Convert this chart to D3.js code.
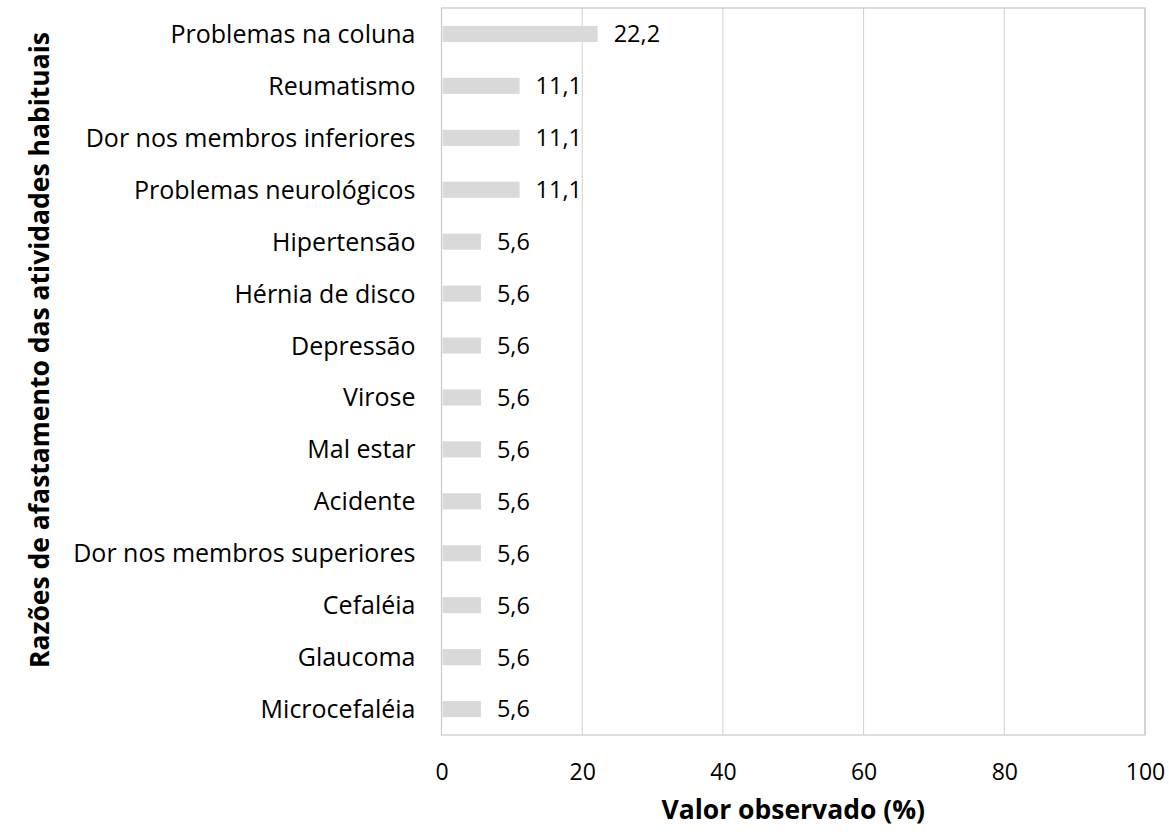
<!DOCTYPE html>
<html>
<head>
<meta charset="utf-8">
<script src="https://cdn.jsdelivr.net/npm/d3@7"></script>
<style>
  body { margin: 0; background: #fff; }
  text { font-family: "Open Sans", "Noto Sans", sans-serif; fill: #000; }
</style>
</head>
<body>
<svg id="chart" width="1169" height="840"></svg>
<script>
// data
var categories = ["Problemas na coluna", "Reumatismo", "Dor nos membros inferiores",
  "Problemas neurológicos", "Hipertensão", "Hérnia de disco", "Depressão", "Virose",
  "Mal estar", "Acidente", "Dor nos membros superiores", "Cefaléia", "Glaucoma", "Microcefaléia"];
var values = [22.2, 11.1, 11.1, 11.1, 5.6, 5.6, 5.6, 5.6, 5.6, 5.6, 5.6, 5.6, 5.6, 5.6];
var xTicks = [0, 20, 40, 60, 80, 100];

var plotLeft = 441.5, plotRight = 1145, plotTop = 8, plotBottom = 735;
var svg = d3.select("#chart");

var x = d3.scaleLinear().domain([0, 100]).range([plotLeft, plotRight]);
var y = d3.scaleBand().domain(categories).range([plotTop, plotBottom]).paddingInner(0.69).paddingOuter(0.345);

//gridlines
svg.append("g").selectAll("line").data(xTicks.slice(1)).enter().append("line")
  .attr("x1", function(d){ return x(d); }).attr("x2", function(d){ return x(d); })
  .attr("y1", plotTop).attr("y2", plotBottom)
  .attr("stroke", "#d0d0d0").attr("stroke-width", 1);

//plot border
svg.append("rect").attr("x", plotLeft).attr("y", plotTop)
  .attr("width", plotRight - plotLeft).attr("height", plotBottom - plotTop)
  .attr("fill", "none").attr("stroke", "#c8c8c8").attr("stroke-width", 1.2);

//bars
svg.append("g").selectAll("rect").data(values).enter().append("rect")
  .attr("x", x(0) + 1)
  .attr("y", function(d, i){ return y(categories[i]); })
  .attr("width", function(d){ return x(d) - x(0) - 1; })
  .attr("height", y.bandwidth())
  .attr("fill", "#d9d9d9");

//value labels
svg.append("g").selectAll("text").data(values).enter().append("text")
  .attr("x", function(d){ return x(d) + 16; })
  .attr("y", function(d, i){ return y(categories[i]) + y.bandwidth()/2; })
  .attr("dy", "0.36em")
  .style("font-size", "23.5px")
  .text(function(d){ return d.toFixed(1).replace(".", ","); });

//category labels
var yAxis = d3.axisLeft(y).tickSize(0).tickPadding(26);
var gy = svg.append("g").attr("transform", "translate(" + plotLeft + ",0)").call(yAxis);
gy.select(".domain").remove();
gy.selectAll("text").attr("dy", "0.36em").style("font-size", "25px").style("font-family", "'Open Sans', sans-serif");

//x tick labels
var xAxis = d3.axisBottom(x).tickValues(xTicks).tickSize(0).tickPadding(29);
var gx = svg.append("g").attr("transform", "translate(0," + plotBottom + ")").call(xAxis);
gx.select(".domain").remove();
gx.selectAll("text").style("font-size", "23px").style("font-family", "'Open Sans', sans-serif");

//axis titles
svg.append("text").attr("x", (plotLeft + plotRight)/2).attr("y", 819)
  .attr("text-anchor", "middle").style("font-size", "26.5px").style("font-weight", "bold")
  .text("Valor observado (%)");

svg.append("text").attr("transform", "translate(49,350) rotate(-90)")
  .attr("text-anchor", "middle").style("font-size", "26.5px").style("font-weight", "bold")
  .text("Razões de afastamento das atividades habituais");
</script>
</body>
</html>
